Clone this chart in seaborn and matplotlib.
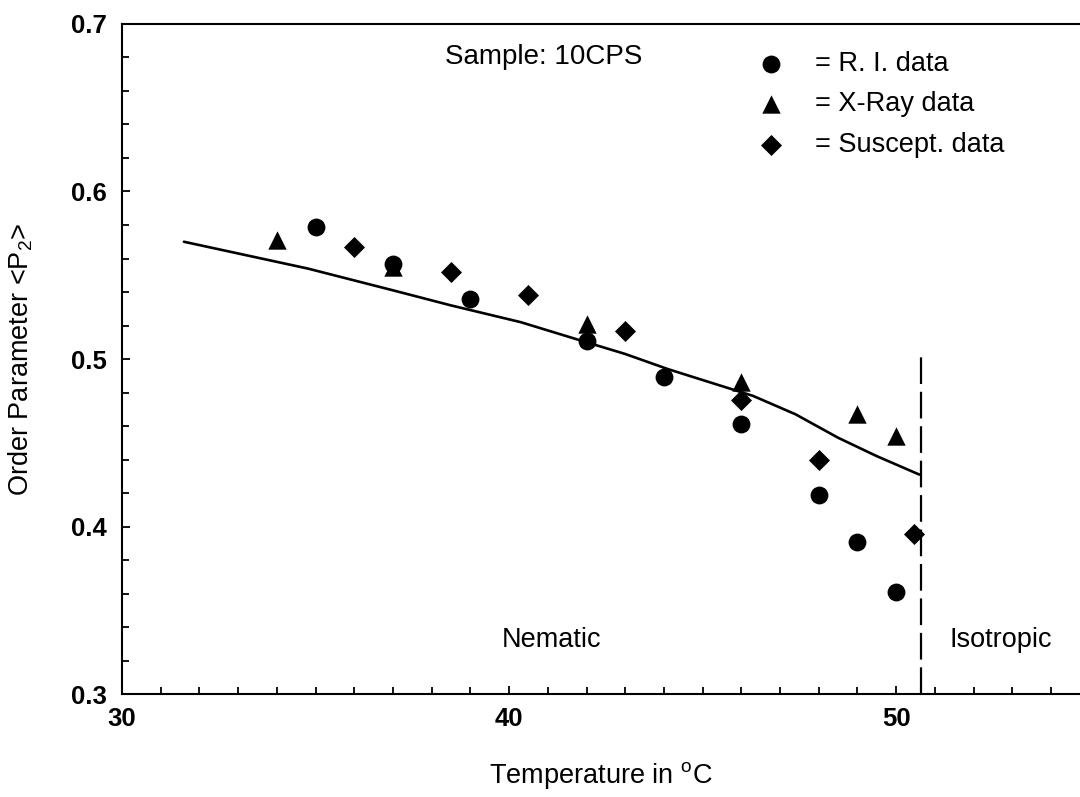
import numpy as np
import pandas as pd
import seaborn as sns
import matplotlib.pyplot as plt
from matplotlib.ticker import MultipleLocator

# values
ri_temp = [35, 37, 39, 42, 44, 46, 48, 49, 50]
ri_p2 = [0.579, 0.557, 0.536, 0.511, 0.489, 0.461, 0.419, 0.391, 0.361]

xray_temp = [34, 37, 42, 46, 49, 50]
xray_p2 = [0.571, 0.555, 0.521, 0.486, 0.467, 0.454]

sus_temp = [36, 38.5, 40.5, 43, 46, 48, 50.45]
sus_p2 = [0.567, 0.552, 0.538, 0.517, 0.4755, 0.440, 0.3955]

theory_temp = [31.6, 34.8, 37.0, 38.5, 40.3, 42.0, 43.0, 44.1, 46.3, 47.4, 48.5, 49.5, 50.6]
theory_p2 = [0.570, 0.554, 0.541, 0.532, 0.522, 0.510, 0.503, 0.494, 0.478, 0.467, 0.453, 0.442, 0.431]

t_ni = 50.65  # nematic -> isotropic transition

sns.set_style('ticks')
plt.rcParams['font.family'] = ['Liberation Sans', 'DejaVu Sans']
plt.rcParams['mathtext.fontset'] = 'custom'
plt.rcParams['mathtext.rm'] = 'Liberation Sans'
for key in ['text.color', 'axes.labelcolor', 'xtick.color', 'ytick.color', 'axes.edgecolor']:
    plt.rcParams[key] = 'black'

fig = plt.figure(figsize=(10.8, 7.97), dpi=100)
ax = fig.add_axes([0.113, 0.1292, 0.887, 0.8407])

theory = pd.DataFrame({'T': theory_temp, 'P2': theory_p2})
sns.lineplot(data=theory, x='T', y='P2', color='black', linewidth=1.9, sort=False, ax=ax)

ax.vlines(t_ni, 0.3, 0.503, colors='black', linewidth=1.6, linestyles=(0, (12, 3.5)))

# triangles first, circles last so overlaps look like the original
sns.scatterplot(x=xray_temp, y=xray_p2, marker='^', s=175, color='black', linewidth=0,
                label='= X-Ray data', ax=ax)
sns.scatterplot(x=sus_temp, y=sus_p2, marker='D', s=115, color='black', linewidth=0,
                label='= Suscept. data', ax=ax)
sns.scatterplot(x=ri_temp, y=ri_p2, marker='o', s=165, color='black', linewidth=0,
                label='= R. I. data', ax=ax)

ax.set_xlim(30, 54.75)
ax.set_ylim(0.3, 0.7)
ax.xaxis.set_major_locator(MultipleLocator(10))
ax.xaxis.set_minor_locator(MultipleLocator(1))
ax.yaxis.set_minor_locator(MultipleLocator(0.02))
ax.set_yticks([0.3, 0.4, 0.5, 0.6, 0.7])
ax.set_yticklabels(['0.3', '0.4', '0.5', '0.6', '0.7'])

ax.tick_params(which='both', direction='in', width=1.3, labelsize=18.5, color='black')
ax.tick_params(axis='x', which='major', length=6, pad=9)
ax.tick_params(axis='x', which='minor', length=5)
ax.tick_params(axis='y', which='major', length=6, pad=11)
ax.tick_params(axis='y', which='minor', length=5)
plt.setp(ax.get_xticklabels() + ax.get_yticklabels(), fontweight='bold')

for side in ['left', 'bottom', 'top']:
    ax.spines[side].set_linewidth(1.5)
ax.spines['right'].set_visible(False)

ax.set_xlabel(r'Temperature in $\mathregular{^o}$C', fontsize=19.5, labelpad=21)
ax.set_ylabel(r'Order Parameter <P$\mathregular{_2}$>', fontsize=19.5, labelpad=26)

ax.text(40.9, 0.680, 'Sample: 10CPS', fontsize=20, ha='center', va='center')
ax.text(41.1, 0.332, 'Nematic', fontsize=19.5, ha='center', va='center')
ax.text(52.7, 0.332, 'Isotropic', fontsize=19.5, ha='center', va='center')

handles, labels = ax.get_legend_handles_labels()
order = [2, 0, 1]
ax.legend([handles[i] for i in order], [labels[i] for i in order],
          loc='upper left', bbox_to_anchor=(0.663, 0.96), frameon=False,
          fontsize=19.5, handlelength=1.0, handletextpad=1.15, labelspacing=0.54,
          borderpad=0, borderaxespad=0)

fig.savefig('out.png', dpi=100)
